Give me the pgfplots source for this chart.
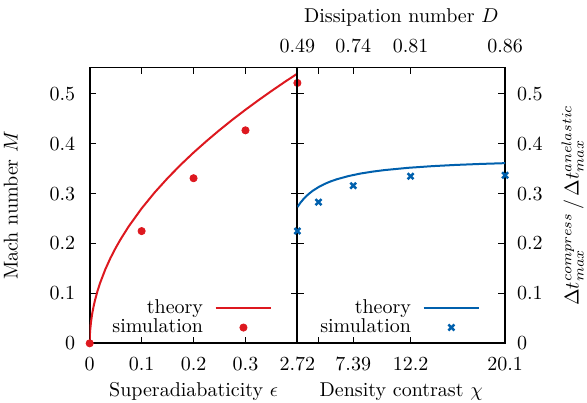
\documentclass[border=0pt]{standalone}
\usepackage{pgfplots}
\pgfplotsset{compat=1.18}
\definecolor{cred}{HTML}{DD181F}
\definecolor{cblue}{HTML}{0060AD}
\begin{document}
\begin{tikzpicture}
\pgfplotsset{
  myax/.style={scale only axis, width=103.85pt, height=137.9pt,
    ymin=0, ymax=0.553, ytick={0,0.1,0.2,0.3,0.4,0.5},
    yticklabels={0,0.1,0.2,0.3,0.4,0.5},
    axis line style={line width=0.9pt},
    tick style={line width=0.5pt, black},
    tick align=inside, major tick length=3.3pt,
    xticklabel style={yshift=-3.4pt},
    xlabel style={at={(axis description cs:0.5,0)}, anchor=base, yshift=-26.8pt},
    legend style={draw=none, fill=none, inner sep=0pt, outer sep=0pt,
      row sep=-2.8pt, column sep=3.8pt, anchor=south east},
    legend cell align=right, legend plot pos=right,
  },
  linelegend/.style={legend image code/.code={\draw[##1] (0pt,0pt) -- (27.8pt,0pt);}},
  marklegend/.style={legend image code/.code={\draw[mark repeat=2,mark phase=2,##1] plot coordinates {(0pt,0pt) (13.9pt,0pt) (27.8pt,0pt)};}},
}
\begin{axis}[myax, name=left,
  xmin=0, xmax=0.4, xtick={0,0.1,0.2,0.3}, xticklabels={0,0.1,0.2,0.3},
  xlabel={Superadiabaticity $\epsilon$},
  ylabel={Mach number $M$},
  every axis y label/.style={at={([xshift=-36pt]axis description cs:0,0.5)}, anchor=base, rotate=90},
  yticklabel style={xshift=-3.7pt},
  legend style={at={(axis description cs:0.879,0.012)}},
]
\addplot[cred, line width=1pt, no marks, line join=round, linelegend] coordinates {
(0,0) (0.0001,0.00855) (0.0005,0.0191) (0.001,0.0270) (0.0025,0.0428) (0.005,0.0605)
(0.0075,0.0740) (0.01,0.0855) (0.015,0.1047) (0.02,0.1209) (0.03,0.1481) (0.04,0.1710)
(0.05,0.1912) (0.06,0.2094) (0.075,0.2342) (0.1,0.2704) (0.125,0.3023) (0.15,0.3311)
(0.175,0.3577) (0.2,0.3824) (0.225,0.4055) (0.25,0.4275) (0.275,0.4484) (0.3,0.4683)
(0.325,0.4874) (0.35,0.5058) (0.375,0.5236) (0.4,0.5408)};
\addlegendentry{theory}
\addplot[cred, only marks, mark=*, mark size=1.8pt, marklegend] coordinates {
(0,0) (0.1,0.225) (0.2,0.331) (0.3,0.427) (0.4,0.522)};
\addlegendentry{simulation}
\end{axis}
\begin{axis}[myax, name=right, at={(left.south east)}, anchor=south west,
  xmin=2.718282, xmax=20.085537,
  xtick={2.718282,4.481689,7.389056,12.182494,20.085537},
  xticklabels={2.72,,7.39,12.2,20.1},
  yticklabel pos=right, yticklabel style={xshift=2.5pt},
  xlabel={Density contrast $\chi$},
  ylabel={$\Delta t_{max}^{compress}\,/\,\Delta t_{max}^{anelastic}$},
  every axis y label/.style={at={([xshift=36.8pt]axis description cs:1,0.5)}, anchor=base, rotate=90},
  legend style={at={(axis description cs:0.88,0.012)}},
]
\addplot[cblue, line width=1pt, no marks, line join=round, linelegend] coordinates {
(2.718,0.273) (2.85,0.2778) (3.0,0.2827) (3.25,0.2898) (3.5,0.2959) (3.75,0.3011) (4.0,0.3058) (4.5,0.3134) (5.0,0.3196)
(5.5,0.3246) (6.0,0.3288) (7.0,0.3354) (8.0,0.3404) (9.0,0.3442) (10.0,0.3473) (12.0,0.3519)
(14.0,0.3552) (16.0,0.3577) (18.0,0.3596) (20.0855,0.3612)};
\addlegendentry{theory}
\addplot[cblue, only marks, mark=x, mark size=2.1pt, line width=1.25pt, marklegend] coordinates {
(2.718282,0.225) (4.481689,0.283) (7.389056,0.316) (12.182494,0.335) (20.085537,0.337)};
\addlegendentry{simulation}
\end{axis}
\begin{axis}[scale only axis, width=103.85pt, height=137.9pt,
  at={(left.south east)}, anchor=south west,
  xmin=2.718282, xmax=20.085537, ymin=0, ymax=0.553,
  xtick={2.718282,4.481689,7.389056,12.182494,20.085537},
  xticklabels={0.49,,0.74,0.81,0.86},
  xticklabel pos=upper, hide y axis,
  x axis line style={draw=none}, major x tick style={draw=none},
  xticklabel style={yshift=3.9pt},
  xlabel={Dissipation number $D$},
  xlabel style={at={(axis description cs:0.5,1)}, anchor=base, yshift=22.25pt},
]
\end{axis}
\pgfresetboundingbox
\path[use as bounding box] ([xshift=-44.85pt,yshift=-29.35pt]left.south west) rectangle ([xshift=248.65pt,yshift=171.65pt]left.south west);
\end{tikzpicture}
\end{document}
